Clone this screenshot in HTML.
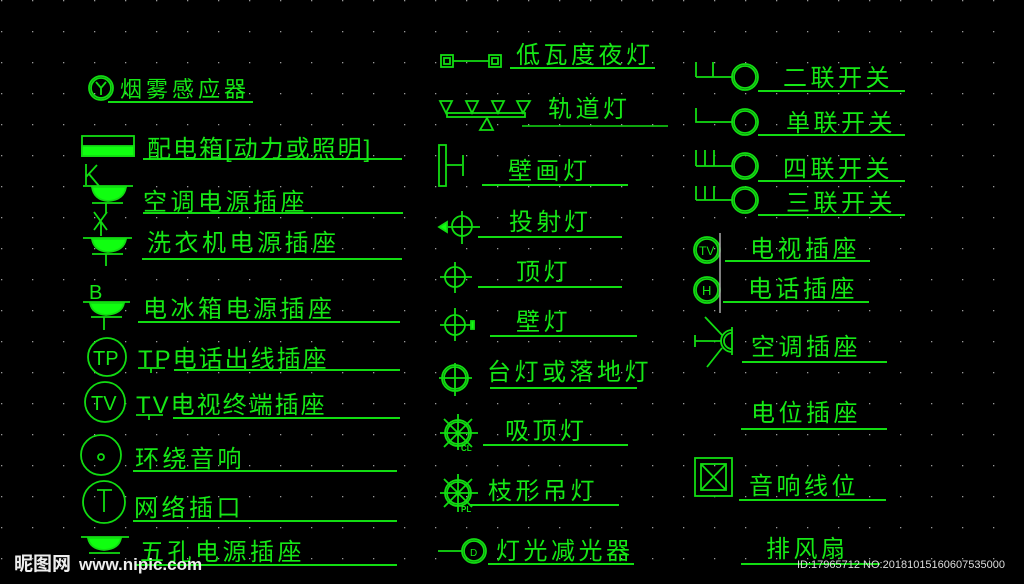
<!DOCTYPE html>
<html><head><meta charset="utf-8"><style>
html,body{margin:0;padding:0;background:#000;width:1024px;height:584px;overflow:hidden}
svg{display:block}
text{font-family:"Liberation Sans","Noto Sans CJK SC",sans-serif;fill:#16e816}
.t{font-size:24px;letter-spacing:3.5px}
</style></head><body>
<svg width="1024" height="584" viewBox="0 0 1024 584" xmlns="http://www.w3.org/2000/svg">
<defs><pattern id="g" width="31" height="31" patternUnits="userSpaceOnUse" x="1" y="0"><rect x="0" y="0" width="1.3" height="1.3" fill="#9a9a9a"/></pattern></defs>
<rect width="1024" height="584" fill="#000"/>
<rect width="1024" height="584" fill="url(#g)"/>
<g stroke="#12dc12" stroke-width="1.8" fill="none">
<circle cx="101" cy="88" r="10"/><circle cx="101" cy="88" r="12"/>
<path d="M96 82 L101 88 L106 82 M101 88 V95"/>
<line x1="108" y1="102" x2="253" y2="102" stroke-width="2"/>
<rect x="82" y="136" width="52" height="20"/><rect x="82" y="146" width="52" height="10" fill="#10ff10"/>
<line x1="143" y1="159" x2="402" y2="159" stroke-width="2"/>
<path d="M86 164 V185 M86 177 L97 165 M89 174 L99 186"/>
<path d="M83 186 H133"/><path d="M92 187 Q94 200 108 201 Q124 200 126 187 Z" fill="#10ff10"/><path d="M92 203 H123 M106 203 V213"/>
<line x1="143" y1="213" x2="403" y2="213" stroke-width="2"/>
<path d="M94 212 L107 230 M107 212 L94 230 M101 222 V236"/>
<path d="M83 238 H132"/><path d="M92 239 Q94 251 108 252 Q124 251 126 239 Z" fill="#10ff10"/><path d="M92 254 H123 M106 254 V266"/>
<line x1="142" y1="259" x2="402" y2="259" stroke-width="2"/>
<path d="M83 302 H130"/><path d="M90 303 Q92 314 106 315 Q122 314 124 303 Z" fill="#10ff10"/><path d="M91 317 H122 M104 317 V330"/>
<line x1="138" y1="322" x2="400" y2="322" stroke-width="2"/>
<circle cx="107" cy="357" r="19"/>
<path d="M138 368 H165 M151 368 V373"/>
<line x1="174" y1="370" x2="400" y2="370" stroke-width="2"/>
<circle cx="105" cy="402" r="20"/>
<path d="M136 415 H163 M149 415 V420"/>
<line x1="173" y1="418" x2="400" y2="418" stroke-width="2"/>
<circle cx="101" cy="455" r="20"/><circle cx="101" cy="457" r="3"/>
<line x1="133" y1="471" x2="397" y2="471" stroke-width="2"/>
<circle cx="104" cy="502" r="21"/><path d="M97 490 H112 M104 490 V512"/>
<line x1="133" y1="521" x2="397" y2="521" stroke-width="2"/>
<path d="M81 537 H129"/><path d="M88 538 Q90 549 104 550 Q119 549 121 538 Z" fill="#10ff10"/><path d="M89 553 H120"/>
<line x1="135" y1="565" x2="397" y2="565" stroke-width="2"/>
<rect x="441" y="55" width="12" height="12"/><rect x="444" y="58" width="6" height="6"/>
<rect x="489" y="55" width="12" height="12"/><rect x="492" y="58" width="6" height="6"/>
<path d="M453 61 H489"/>
<line x1="510" y1="68" x2="655" y2="68" stroke-width="2"/>
<path d="M440 101 H452 L446 113 Z M466 101 H478 L472 113 Z M492 101 H504 L498 113 Z M517 101 H530 L523 113 Z"/>
<rect x="447" y="113" width="78" height="4"/><path d="M480 130 H493 L487 118 Z"/>
<line x1="522" y1="126" x2="668" y2="126" stroke-width="1.5"/>
<rect x="439" y="145" width="7" height="41"/><path d="M446 165 H462 M463 155 V176"/>
<line x1="482" y1="185" x2="628" y2="185" stroke-width="2"/>
<circle cx="462" cy="226" r="10"/><path d="M448 227 H480 M462 211 V244"/><path d="M439 227 L447 222 V232 Z" fill="#10ff10"/>
<line x1="478" y1="237" x2="622" y2="237" stroke-width="2"/>
<circle cx="455" cy="277" r="10"/><path d="M440 277 H472 M455 262 V293"/>
<line x1="478" y1="287" x2="622" y2="287" stroke-width="2"/>
<circle cx="455" cy="325" r="10"/><path d="M440 325 H471 M455 308 V341"/><rect x="471" y="321" width="3" height="8" fill="#10ff10"/>
<line x1="490" y1="336" x2="637" y2="336" stroke-width="2"/>
<circle cx="455" cy="378" r="11"/><circle cx="455" cy="378" r="13"/><path d="M439 378 H472 M455 363 V396"/>
<line x1="490" y1="388" x2="637" y2="388" stroke-width="2"/>
<circle cx="458" cy="433" r="11"/><circle cx="458" cy="433" r="13"/><path d="M440 433 H478 M458 414 V450 M444 419 L472 447 M472 419 L444 447"/>
<line x1="483" y1="445" x2="628" y2="445" stroke-width="2"/>
<circle cx="458" cy="493" r="11"/><circle cx="458" cy="493" r="13"/><path d="M440 493 H478 M458 474 V512 M444 479 L472 507 M472 479 L444 507"/>
<line x1="470" y1="505" x2="619" y2="505" stroke-width="2"/>
<path d="M438 551 H462"/><circle cx="474" cy="551" r="10"/><circle cx="474" cy="551" r="12"/>
<line x1="488" y1="564" x2="634" y2="564" stroke-width="2"/>
<path d="M696 62 V77 M713 62 V77 M696 77 H733"/><circle cx="745" cy="77" r="11"/><circle cx="745" cy="77" r="13"/>
<line x1="758" y1="91" x2="905" y2="91" stroke-width="2"/>
<path d="M696 108 V122 H733"/><circle cx="745" cy="122" r="11"/><circle cx="745" cy="122" r="13"/>
<line x1="758" y1="135" x2="905" y2="135" stroke-width="2"/>
<path d="M696 150 V166 M705 150 V166 M714 150 V166 M696 166 H733"/><circle cx="745" cy="166" r="11"/><circle cx="745" cy="166" r="13"/>
<line x1="758" y1="181" x2="905" y2="181" stroke-width="2"/>
<path d="M696 186 V200 M705 186 V200 M714 186 V200 M696 200 H733"/><circle cx="745" cy="200" r="11"/><circle cx="745" cy="200" r="13"/>
<line x1="758" y1="215" x2="905" y2="215" stroke-width="2"/>
<circle cx="707" cy="250" r="11"/><circle cx="707" cy="250" r="13"/>
<circle cx="707" cy="290" r="11"/><circle cx="707" cy="290" r="13"/>
<line x1="720" y1="233" x2="720" y2="313" stroke="#aaa" stroke-width="1.5"/>
<line x1="725" y1="261" x2="870" y2="261" stroke-width="2"/>
<line x1="723" y1="302" x2="869" y2="302" stroke-width="2"/>
<path d="M732 327 V355 M732 330 A11 11 0 0 0 732 352 M732 333 A8 8 0 0 0 732 349 M695 335 V347 M695 341 H721 M705 317 L722 335 M707 367 L722 348"/>
<line x1="742" y1="362" x2="887" y2="362" stroke-width="2"/>
<line x1="741" y1="429" x2="887" y2="429" stroke-width="2"/>
<rect x="695" y="458" width="37" height="38"/><rect x="701" y="464" width="25" height="26"/><path d="M701 464 L726 490 M726 464 L701 490"/>
<line x1="739" y1="500" x2="886" y2="500" stroke-width="2"/>
<line x1="741" y1="564" x2="880" y2="564" stroke-width="2"/>
</g>
<g>
<text x="120" y="97" class="t" style="font-size:22px;letter-spacing:4px">烟雾感应器</text>
<text x="147" y="157" class="t" style="letter-spacing:2px">配电箱[动力或照明]</text>
<text x="143" y="210" class="t">空调电源插座</text>
<text x="147" y="251" class="t">洗衣机电源插座</text>
<text x="89" y="299" style="font-size:20px">B</text>
<text x="143" y="317" class="t">电冰箱电源插座</text>
<text x="93" y="365" style="font-size:20px">TP</text>
<text x="138" y="367" class="t" style="letter-spacing:2px">TP电话出线插座</text>
<text x="91" y="410" style="font-size:20px">TV</text>
<text x="136" y="413" class="t" style="letter-spacing:2px">TV电视终端插座</text>
<text x="135" y="467" class="t">环绕音响</text>
<text x="134" y="516" class="t">网络插口</text>
<text x="140" y="560" class="t">五孔电源插座</text>
<text x="516" y="63" class="t">低瓦度夜灯</text>
<text x="548" y="117" class="t">轨道灯</text>
<text x="508" y="179" class="t">壁画灯</text>
<text x="509" y="230" class="t">投射灯</text>
<text x="516" y="280" class="t">顶灯</text>
<text x="516" y="330" class="t">壁灯</text>
<text x="487" y="380" class="t">台灯或落地灯</text>
<text x="505" y="439" class="t">吸顶灯</text>
<text x="461" y="451" style="font-size:8px;font-weight:bold">CL</text>
<text x="488" y="499" class="t">枝形吊灯</text>
<text x="461" y="512" style="font-size:8px;font-weight:bold">PL</text>
<text x="470" y="556" style="font-size:10px">D</text>
<text x="496" y="559" class="t">灯光减光器</text>
<text x="783" y="86" class="t">二联开关</text>
<text x="786" y="131" class="t">单联开关</text>
<text x="783" y="177" class="t">四联开关</text>
<text x="786" y="211" class="t">三联开关</text>
<text x="699" y="255" style="font-size:12px">TV</text>
<text x="702" y="295" style="font-size:13px">H</text>
<text x="750" y="257" class="t">电视插座</text>
<text x="748" y="297" class="t">电话插座</text>
<text x="751" y="355" class="t">空调插座</text>
<text x="751" y="421" class="t">电位插座</text>
<text x="749" y="494" class="t">音响线位</text>
<text x="766" y="557" class="t">排风扇</text>
<text x="14" y="570" style="font-size:19px;font-weight:bold;fill:#eee">昵图网</text>
<text x="79" y="570" style="font-size:17px;font-weight:bold;fill:#eee">www.nipic.com</text>
<text x="797" y="568" style="font-size:11px;fill:#ddd">ID:17965712 NO:20181015160607535000</text>
</g>
</svg>
</body></html>
